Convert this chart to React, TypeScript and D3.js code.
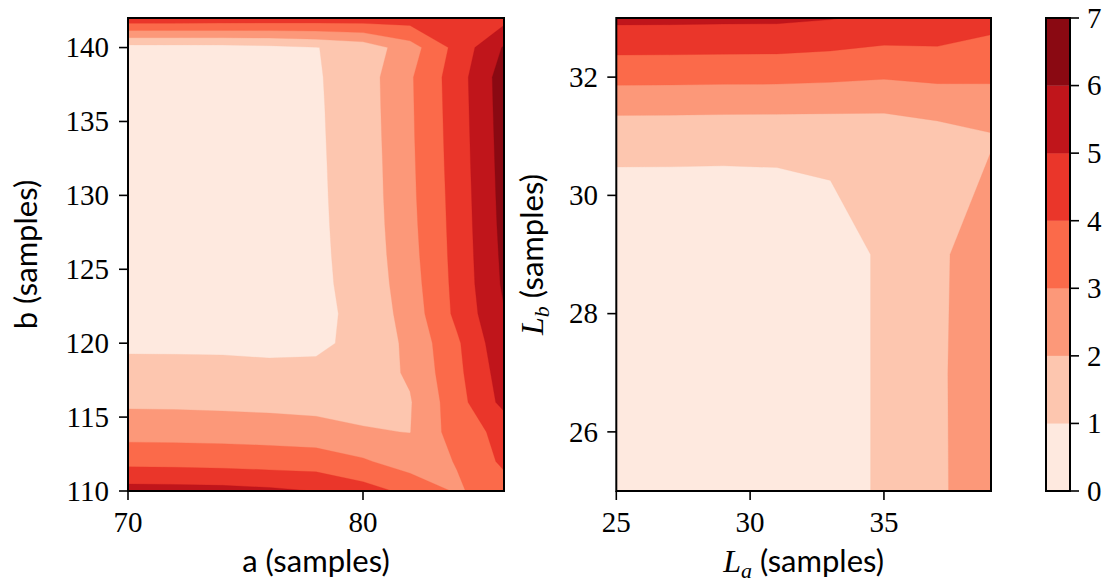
import React from 'react';
import * as d3 from 'd3';

// ---------- data ----------
const levels = [0, 1, 2, 3, 4, 5, 6, 7];

// left panel grid: a (x) and b (y)
const leftXs = [70, 72, 74, 76, 78, 80, 82, 84, 86];
const leftYs = [110, 112, 114, 116, 118, 120, 122, 124, 126, 128, 130, 132, 134, 136, 138, 140, 142];
// rows from b=110 (bottom) to b=142 (top); columns a=70..86
const leftZ = [
  [5.40, 5.38, 5.33, 5.20, 4.98, 4.40, 3.75, 2.88, 3.55],
  [3.69, 3.66, 3.60, 3.52, 3.47, 3.125, 2.50, 3.05, 4.20],
  [2.63, 2.62, 2.60, 2.56, 2.45, 2.07, 1.98, 3.50, 4.30],
  [1.82, 1.80, 1.75, 1.68, 1.60, 1.72, 1.93, 3.60, 5.30],
  [1.35, 1.33, 1.30, 1.27, 1.22, 1.52, 2.12, 3.75, 5.50],
  [0.80, 0.80, 0.80, 0.725, 0.82, 1.26, 2.23, 3.85, 5.75],
  [0.60, 0.60, 0.62, 0.65, 0.81, 1.21, 2.43, 4.24, 5.95],
  [0.58, 0.58, 0.61, 0.64, 0.83, 1.28, 2.56, 4.30, 6.15],
  [0.57, 0.57, 0.60, 0.63, 0.84, 1.33, 2.66, 4.34, 6.22],
  [0.56, 0.56, 0.59, 0.62, 0.85, 1.37, 2.73, 4.37, 6.29],
  [0.55, 0.55, 0.58, 0.62, 0.86, 1.40, 2.78, 4.40, 6.34],
  [0.56, 0.56, 0.59, 0.63, 0.87, 1.42, 2.81, 4.44, 6.38],
  [0.57, 0.57, 0.60, 0.65, 0.88, 1.45, 2.84, 4.47, 6.42],
  [0.58, 0.58, 0.61, 0.67, 0.89, 1.48, 2.86, 4.50, 6.46],
  [0.60, 0.60, 0.62, 0.68, 0.91, 1.50, 2.88, 4.53, 6.49],
  [0.63, 0.64, 0.66, 0.75, 0.969, 1.38, 2.56, 4.33, 6.09],
  [4.74, 4.72, 4.70, 4.66, 4.62, 4.58, 4.48, 4.50, 4.65],
];

// right panel grid: L_a (x) and L_b (y)
const rightXs = [25, 27, 29, 31, 33, 35, 37, 39];
const rightYs = [25, 27, 29, 31, 33];
const rightZ = [
  [0.10, 0.12, 0.15, 0.20, 0.55, 1.15, 1.87, 2.50],
  [0.11, 0.13, 0.16, 0.22, 0.55, 1.15, 1.88, 2.50],
  [0.12, 0.14, 0.16, 0.25, 0.53, 1.157, 1.856, 2.47],
  [1.31, 1.30, 1.28, 1.27, 1.28, 1.32, 1.59, 1.93],
  [5.23, 5.22, 5.20, 5.19, 5.05, 4.80, 4.76, 4.34],
];

const leftXTicks = [70, 80];
const leftYTicks = [110, 115, 120, 125, 130, 135, 140];
const rightXTicks = [25, 30, 35];
const rightYTicks = [26, 28, 30, 32];
const cbarTicks = [0, 1, 2, 3, 4, 5, 6, 7];

// ---------- styling ----------
const redsStops = ['#fff5f0', '#fee0d2', '#fcbba1', '#fc9272', '#fb6a4a', '#ef3b2c', '#cb181d', '#a50f15', '#67000d'];
const reds = d3.piecewise(d3.interpolateRgb, redsStops);
const layerColor = (i: number) => reds((levels[i] + levels[i + 1]) / 2 / (levels[levels.length - 1] - levels[0]));

const serif = "'Liberation Serif', 'Times New Roman', 'DejaVu Serif', serif";
const sans = "Lato, 'Open Sans', 'DejaVu Sans', sans-serif";
const tickFont = 29;
const labelFont = 31;

const L = { x0: 128, x1: 504, y0: 18, y1: 491 };
const R = { x0: 616.3, x1: 991, y0: 18, y1: 491 };
const CB = { x0: 1046, x1: 1070, y0: 18, y1: 491 };

function Contours({ xs, ys, z, xScale, yScale, id }: any) {
  const n = xs.length, m = ys.length;
  const flat = z.flat();
  const gen = d3.contours().size([n, m]).thresholds(levels.slice(0, -1));
  const polys = gen(flat);
  const dx = xs[1] - xs[0], dy = ys[1] - ys[0];
  const proj = d3.geoTransform({
    point: function (px: number, py: number) {
      (this as any).stream.point(xScale(xs[0] + (px - 0.5) * dx), yScale(ys[0] + (py - 0.5) * dy));
    },
  });
  const path = d3.geoPath(proj as any);
  const [ax0, ax1] = xScale.range();
  const [ay0, ay1] = yScale.range();
  return (
    <g>
      <defs>
        <clipPath id={id}>
          <rect x={Math.min(ax0, ax1)} y={Math.min(ay0, ay1)} width={Math.abs(ax1 - ax0)} height={Math.abs(ay1 - ay0)} />
        </clipPath>
      </defs>
      <g clipPath={`url(#${id})`}>
        {polys.map((p: any, i: number) => (
          <path key={i} d={path(p as any) || ''} fill={layerColor(i)} stroke={layerColor(i)} strokeWidth={0.3} />
        ))}
      </g>
    </g>
  );
}

function Frame({ b }: any) {
  return <rect x={b.x0} y={b.y0} width={b.x1 - b.x0} height={b.y1 - b.y0} fill="none" stroke="#000" strokeWidth={2} />;
}

const serifStyle = { fontFamily: serif, fontSize: tickFont };
const sansStyle = { fontFamily: sans, fontSize: labelFont };

export default function App() {
  const lx = d3.scaleLinear().domain([70, 86]).range([L.x0, L.x1]);
  const ly = d3.scaleLinear().domain([110, 142]).range([L.y1, L.y0]);
  const rx = d3.scaleLinear().domain([25, 39]).range([R.x0, R.x1]);
  const ry = d3.scaleLinear().domain([25, 33]).range([R.y1, R.y0]);
  const cy = d3.scaleLinear().domain([0, 7]).range([CB.y1, CB.y0]);
  const tickLen = 9;

  return (
    <svg width={1109} height={586} style={{ position: 'absolute', left: 0, top: 0, background: '#fff' }}>
      <rect width={1109} height={586} fill="#fff" />
      <Contours xs={leftXs} ys={leftYs} z={leftZ} xScale={lx} yScale={ly} id="clipL" />
      <Contours xs={rightXs} ys={rightYs} z={rightZ} xScale={rx} yScale={ry} id="clipR" />

      {/* colorbar */}
      {levels.slice(0, -1).map((lv, i) => (
        <rect key={i} x={CB.x0} y={cy(levels[i + 1])} width={CB.x1 - CB.x0} height={cy(lv) - cy(levels[i + 1])} fill={layerColor(i)} stroke={layerColor(i)} strokeWidth={0.3} />
      ))}
      <Frame b={CB} />
      {cbarTicks.map((t) => (
        <g key={t}>
          <line x1={CB.x1} x2={CB.x1 + tickLen} y1={cy(t)} y2={cy(t)} stroke="#000" strokeWidth={1.6} />
          <text x={1087} y={cy(t)} dy="0.34em" style={serifStyle}>{t}</text>
        </g>
      ))}

      {/* left axes */}
      <Frame b={L} />
      {leftXTicks.map((t) => (
        <g key={t}>
          <line x1={lx(t)} x2={lx(t)} y1={L.y1} y2={L.y1 + tickLen} stroke="#000" strokeWidth={1.6} />
          <text x={lx(t)} y={532} textAnchor="middle" style={serifStyle}>{t}</text>
        </g>
      ))}
      {leftYTicks.map((t) => (
        <g key={t}>
          <line x1={L.x0 - tickLen} x2={L.x0} y1={ly(t)} y2={ly(t)} stroke="#000" strokeWidth={1.6} />
          <text x={109} y={ly(t)} dy="0.34em" textAnchor="end" style={serifStyle}>{t}</text>
        </g>
      ))}
      <text x={(L.x0 + L.x1) / 2} y={572} textAnchor="middle" style={sansStyle}>a (samples)</text>
      <text transform={`translate(37, ${(L.y0 + L.y1) / 2}) rotate(-90)`} textAnchor="middle" style={sansStyle}>b (samples)</text>

      {/* right axes */}
      <Frame b={R} />
      {rightXTicks.map((t) => (
        <g key={t}>
          <line x1={rx(t)} x2={rx(t)} y1={R.y1} y2={R.y1 + tickLen} stroke="#000" strokeWidth={1.6} />
          <text x={rx(t)} y={532} textAnchor="middle" style={serifStyle}>{t}</text>
        </g>
      ))}
      {rightYTicks.map((t) => (
        <g key={t}>
          <line x1={R.x0 - tickLen} x2={R.x0} y1={ry(t)} y2={ry(t)} stroke="#000" strokeWidth={1.6} />
          <text x={598} y={ry(t)} dy="0.34em" textAnchor="end" style={serifStyle}>{t}</text>
        </g>
      ))}
      <text x={(R.x0 + R.x1) / 2} y={572} textAnchor="middle" style={{ fontSize: labelFont }}>
        <tspan style={{ fontFamily: serif, fontStyle: 'italic', fontSize: 32 }}>L</tspan>
        <tspan style={{ fontFamily: serif, fontStyle: 'italic', fontSize: 22 }} dy={6}>a</tspan>
        <tspan style={{ fontFamily: sans, fontSize: labelFont }} dy={-6}> (samples)</tspan>
      </text>
      <text transform={`translate(543, ${(R.y0 + R.y1) / 2}) rotate(-90)`} textAnchor="middle" style={{ fontSize: labelFont }}>
        <tspan style={{ fontFamily: serif, fontStyle: 'italic', fontSize: 32 }}>L</tspan>
        <tspan style={{ fontFamily: serif, fontStyle: 'italic', fontSize: 22 }} dy={6}>b</tspan>
        <tspan style={{ fontFamily: sans, fontSize: labelFont }} dy={-6}> (samples)</tspan>
      </text>
    </svg>
  );
}
